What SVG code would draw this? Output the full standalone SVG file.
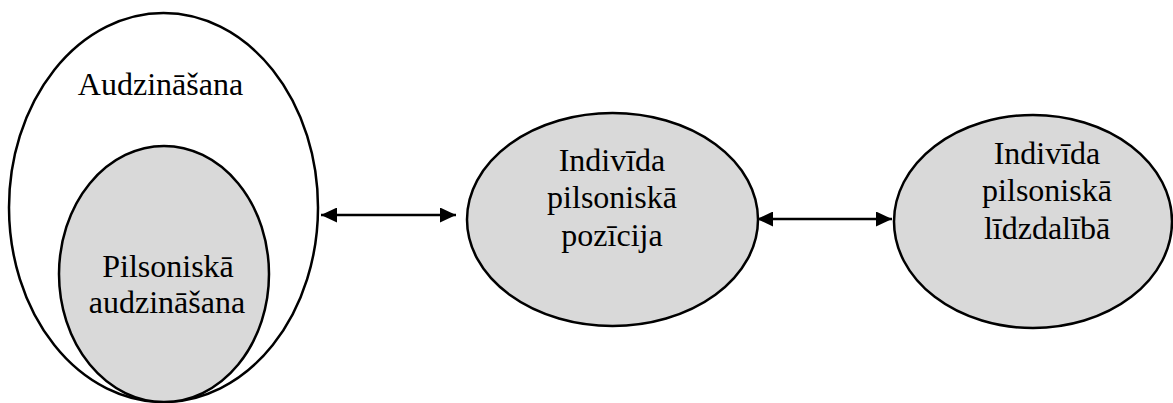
<svg xmlns="http://www.w3.org/2000/svg" width="1173" height="403" viewBox="0 0 1173 403">
<defs>
<style>
.o{fill:#ffffff;stroke:#000;stroke-width:2.5}
.g{fill:#d9d9d9;stroke:#000;stroke-width:2.5}
.t{font-family:'Liberation Serif','DejaVu Serif','Times New Roman',serif;font-size:32px;fill:#000;text-anchor:middle}
.c{stroke:#000;stroke-width:2.5;fill:none;marker-start:url(#ah);marker-end:url(#ah)}
</style>
<marker id="ah" viewBox="0 0 16 15" refX="16" refY="7.5" markerWidth="16" markerHeight="15" markerUnits="userSpaceOnUse" orient="auto-start-reverse">
<path d="M0,0 L16,7.5 L0,15 Z" fill="#000"/>
</marker>
</defs>
<rect width="1173" height="403" fill="#fff"/>
<g id="audzinasana">
<ellipse class="o" cx="163.5" cy="207.5" rx="154.5" ry="194.5"/>
<text class="t" font-family="Liberation Serif, serif" x="160.5" y="95">Audzināšana</text>
</g>
<g id="pilsoniska-audzinasana">
<ellipse class="g" cx="164" cy="274" rx="105" ry="128"/>
<text class="t" font-family="Liberation Serif, serif" x="168" y="277">Pilsoniskā</text>
<text class="t" font-family="Liberation Serif, serif" x="167" y="313">audzināšana</text>
</g>
<g id="pozicija">
<ellipse class="g" cx="612.5" cy="219.5" rx="145.5" ry="106.5"/>
<text class="t" font-family="Liberation Serif, serif" x="612" y="171">Indivīda</text>
<text class="t" font-family="Liberation Serif, serif" x="612" y="208">pilsoniskā</text>
<text class="t" font-family="Liberation Serif, serif" x="612" y="246">pozīcija</text>
</g>
<g id="lidzdaliba">
<ellipse class="g" cx="1033" cy="221.5" rx="139" ry="106.5"/>
<text class="t" font-family="Liberation Serif, serif" x="1047" y="164">Indivīda</text>
<text class="t" font-family="Liberation Serif, serif" x="1047" y="201">pilsoniskā</text>
<text class="t" font-family="Liberation Serif, serif" x="1047" y="239">līdzdalībā</text>
</g>
<g id="connectors">
<line class="c" x1="321" y1="215" x2="456" y2="215"/>
<line class="c" x1="757" y1="219" x2="892" y2="219"/>
</g>
</svg>
